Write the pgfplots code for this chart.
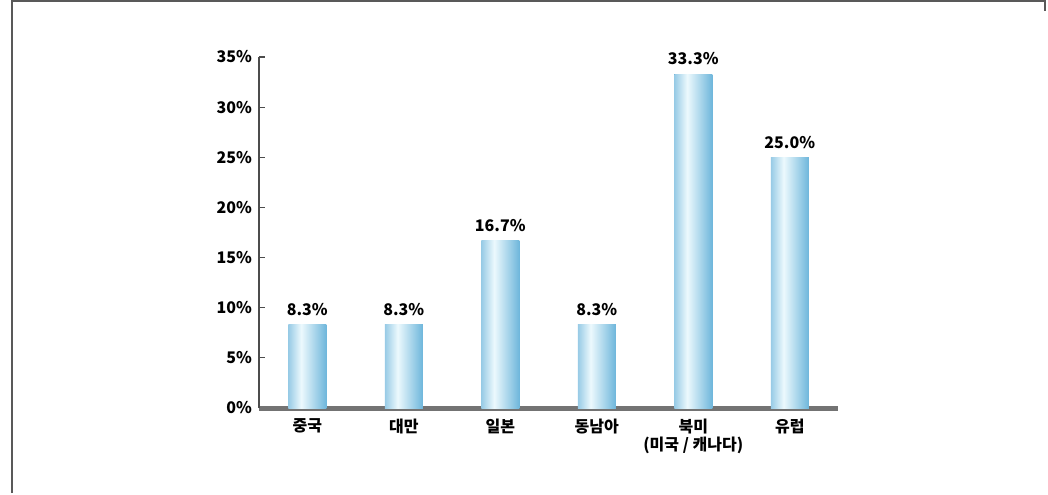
\documentclass[border=0pt]{standalone}
\usepackage{pgfplots}
\pgfplotsset{compat=1.18}
\usepackage{fontspec}
\setmainfont{Noto Sans CJK KR}
\definecolor{barside}{RGB}{66,156,206}
\definecolor{barmid}{RGB}{236,249,253}
\definecolor{barright}{RGB}{84,168,212}
\pgfdeclarehorizontalshading{cyl}{100bp}{color(0bp)=(barside); color(8bp)=(barside); color(42bp)=(barmid); color(82bp)=(barright); color(100bp)=(barright)}
\begin{document}
\begin{tikzpicture}
\path (0,0) rectangle (524pt,246.5pt);
\draw[black!65, line width=1pt] (6pt,0) -- (6pt,245.8pt) -- (522.5pt,245.8pt) -- (522.5pt,241pt);
\begin{axis}[
  at={(129.5pt,42.5pt)}, anchor=south west,
  scale only axis, width=289.5pt, height=175.5pt,
  xmin=-0.5, xmax=5.5, ymin=0, ymax=35,
  axis x line=bottom, axis y line=left,
  axis line style={-},
  x axis line style={line width=2.5pt, black!55},
  y axis line style={line width=0.7pt, black!70},
  ytick={0,5,...,35},
  yticklabel={\pgfmathprintnumber{\tick}\%},
  /pgf/number format/assume math mode=true,
  tick align=inside,
  major tick length=3pt,
  ytick style={black!70, line width=0.6pt},
  xtick={0,...,5},
  xticklabels={중국, 대만, 일본, 동남아, 북미\\(미국 / 캐나다), 유럽},
  xtick style={draw=none},
  extra x ticks={0.5,1.5,2.5,3.5,4.5},
  extra x tick labels={},
  extra x tick style={tick style={draw=black!70, line width=0.6pt}, major tick length=5pt},
  xticklabel style={align=center, font=\bfseries\fontsize{8}{9}\selectfont, yshift=-2pt},
  yticklabel style={font=\bfseries\fontsize{8}{9}\selectfont},
  cylbar/.style={ybar, bar width=19pt, bar shift=0pt, draw=none, fill=barside,
    postaction={shade, shading=cyl},
    nodes near coords={\pgfmathprintnumber[fixed,fixed zerofill,precision=1]{\pgfplotspointmeta}\%},
    every node near coord/.append style={black, font=\bfseries\fontsize{8}{9}\selectfont, yshift=1pt}},
  clip=false,
]
\addplot[cylbar] coordinates {(0,8.3)};
\addplot[cylbar] coordinates {(1,8.3)};
\addplot[cylbar] coordinates {(2,16.7)};
\addplot[cylbar] coordinates {(3,8.3)};
\addplot[cylbar] coordinates {(4,33.3)};
\addplot[cylbar] coordinates {(5,25.0)};
\end{axis}
\end{tikzpicture}
\end{document}
